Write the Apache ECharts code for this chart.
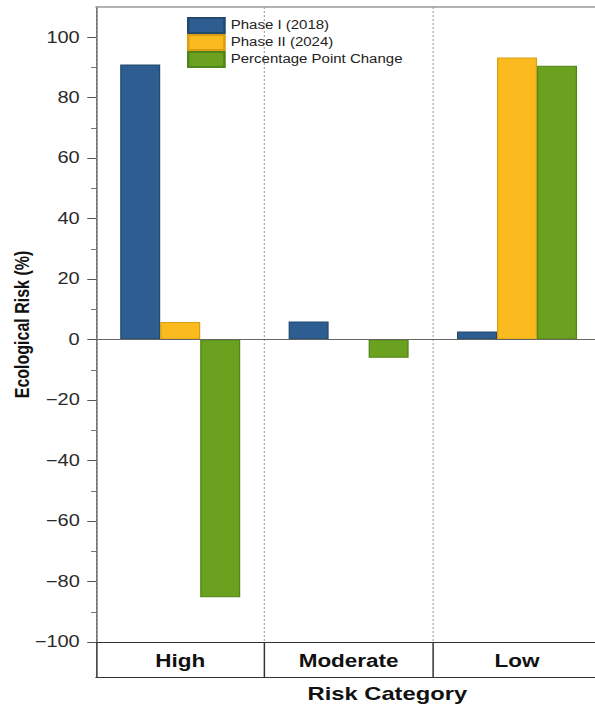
<!DOCTYPE html>
<html>
<head>
<meta charset="utf-8">
<script src="https://cdn.jsdelivr.net/npm/echarts@6/dist/echarts.min.js"></script>
<style>
  html, body { margin: 0; padding: 0; background: #ffffff; overflow: hidden; width: 595px; height: 711px; }
  /* the figure is laid out on a narrower canvas and stretched horizontally */
  #chart { width: 481px; height: 711px; transform: scaleX(1.25); transform-origin: 0 0; }
</style>
</head>
<body>
<div id="chart"></div>
<script>
// Risk categories on the x axis
const categories = ['High', 'Moderate', 'Low'];

// Share of area in each ecological-risk class (%)
const phase1 = [91.0, 6.0, 2.7];     // Phase I (2018)
const phase2 = [5.8, 0, 93.3];       // Phase II (2024)
const ppChange = [-85.2, -6.0, 90.6]; // Phase II minus Phase I, percentage points

// Y-axis ticks
const majorTicks = [-100, -80, -60, -40, -20, 0, 20, 40, 60, 80, 100];
const minorTicks = [-90, -70, -50, -30, -10, 10, 30, 50, 70, 90];

const seriesNames = ['Phase I (2018)', 'Phase II (2024)', 'Percentage Point Change'];

const FONT = '"Liberation Sans", Arial, sans-serif';
const colors = ['#2E5E91', '#FBBB1F', '#6AA220'];
const borders = ['#24496f', '#d99e12', '#52841a'];

const chart = echarts.init(document.getElementById('chart'), null, { renderer: 'svg' });

function barSeries(i, data) {
  return {
    name: seriesNames[i],
    type: 'bar',
    data: data,
    barWidth: 32,
    barGap: '0%',
    xAxisIndex: 0,
    yAxisIndex: 0,
    itemStyle: { color: colors[i], borderColor: borders[i], borderWidth: 1 },
    emphasis: { disabled: true }
  };
}

const series = [barSeries(0, phase1), barSeries(1, phase2), barSeries(2, ppChange)];
// horizontal reference line at zero
series[0].markLine = {
  silent: true,
  symbol: 'none',
  label: { show: false },
  lineStyle: { color: '#666', width: 1, type: 'solid' },
  data: [{ yAxis: 0 }],
  z: 10
};

// tick labels use a typographic minus sign
const minusFmt = v => String(v).replace('-', '\u2212');

chart.setOption({
  animation: false,
  backgroundColor: '#ffffff',
  textStyle: { fontFamily: FONT },
  grid: { left: 76.8, right: 0, top: 7, bottom: 69, containLabel: false, outerBoundsMode: 'none' },
  legend: {
    orient: 'vertical',
    left: 149.6,
    top: 17,
    itemWidth: 29,
    itemHeight: 15,
    itemGap: 0,
    padding: 0,
    icon: 'rect',
    selectedMode: false,
    data: seriesNames,
    textStyle: { fontFamily: FONT, fontSize: 12, color: '#222' }
  },
  xAxis: [
    {
      type: 'category',
      data: categories,
      position: 'bottom',
      axisLine: { onZero: false, lineStyle: { color: '#333', width: 1 } },
      axisTick: { show: true, inside: false, length: 35, lineStyle: { color: '#333', width: 1.2 } },
      axisLabel: { fontFamily: FONT, fontSize: 18, fontWeight: 'bold', color: '#111', margin: 10 },
      splitLine: { show: true, lineStyle: { color: '#aaaaaa', width: 1, type: [2, 2] } }
    },
    {
      type: 'category',
      data: categories,
      position: 'bottom',
      offset: 35,
      axisLine: { onZero: false, lineStyle: { color: '#333', width: 1.2 } },
      axisTick: { show: false },
      axisLabel: { show: false },
      splitLine: { show: false }
    },
    {
      type: 'category',
      data: categories,
      position: 'top',
      axisLine: { onZero: false, lineStyle: { color: '#999', width: 1.5 } },
      axisTick: { show: false },
      axisLabel: { show: false },
      splitLine: { show: false }
    }
  ],
  yAxis: [
    {
      type: 'value',
      min: -100,
      max: 110,
      position: 'left',
      name: 'Ecological Risk (%)',
      nameLocation: 'middle',
      nameGap: 51,
      nameMoveOverlap: false,
      nameTextStyle: { fontFamily: FONT, fontSize: 16, fontWeight: 'bold', color: '#111' },
      axisLine: { show: true, onZero: false, lineStyle: { color: '#555', width: 1 } },
      axisTick: { show: true, inside: false, length: 7, customValues: majorTicks, lineStyle: { color: '#555', width: 1 } },
      axisLabel: { fontFamily: FONT, fontSize: 16, color: '#2a2a2a', margin: 13, customValues: majorTicks, formatter: minusFmt },
      splitLine: { show: false }
    },
    {
      type: 'value',
      min: -100,
      max: 110,
      position: 'left',
      axisLine: { show: false, onZero: false },
      axisTick: { show: true, inside: false, length: 4, customValues: minorTicks, lineStyle: { color: '#777', width: 1 } },
      axisLabel: { show: false, customValues: minorTicks },
      splitLine: { show: false }
    }
  ],
  graphic: [
    {
      type: 'text',
      left: 308 - 62,
      top: 684,
      style: { text: 'Risk Category', fontFamily: FONT, fontSize: 19, fontWeight: 'bold', fill: '#111' }
    }
  ],
  series: series
});
</script>
</body>
</html>
